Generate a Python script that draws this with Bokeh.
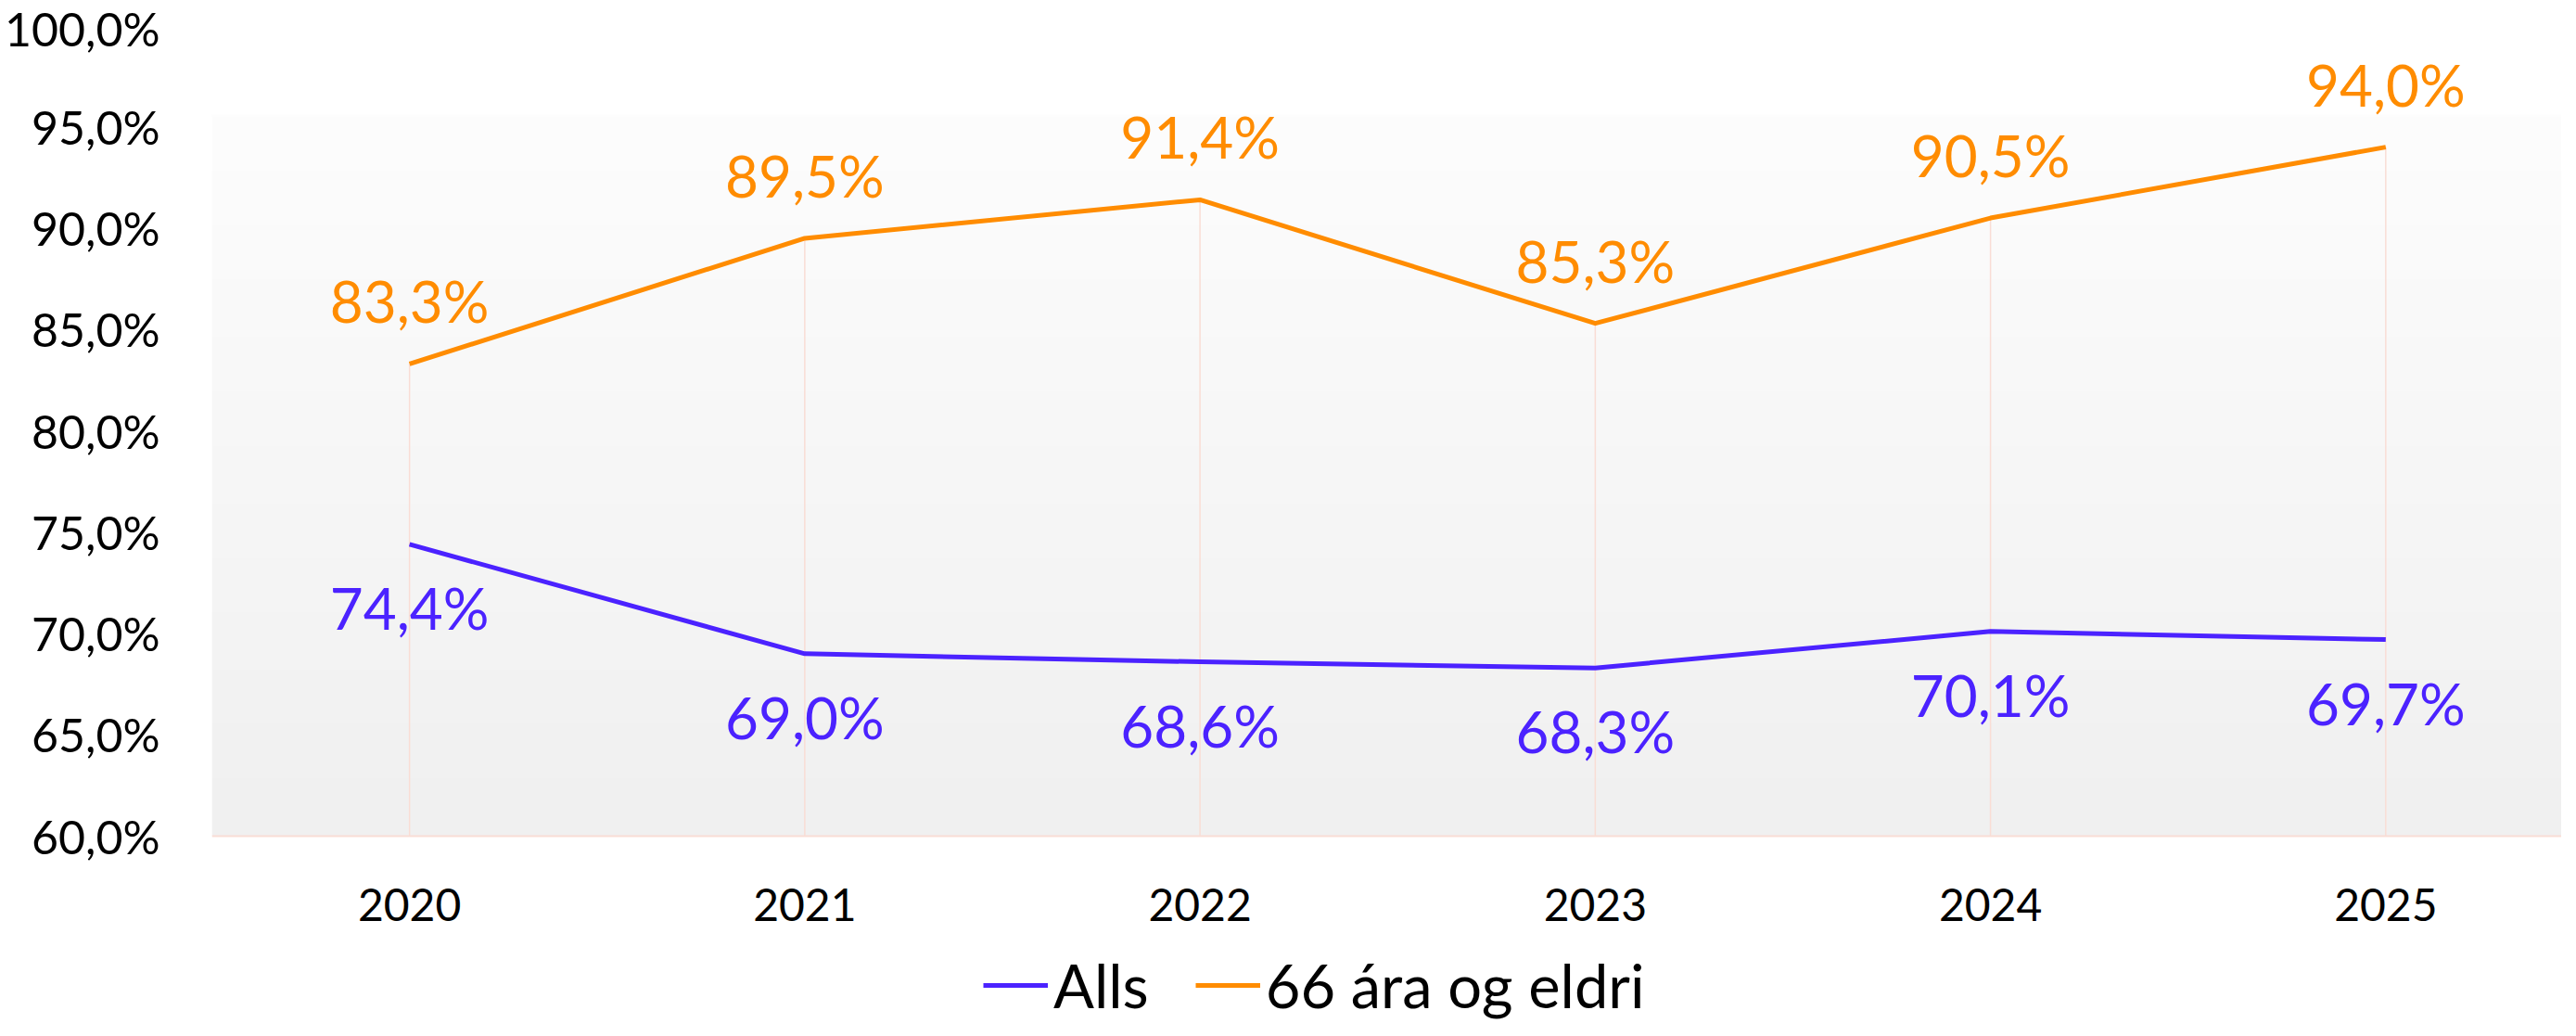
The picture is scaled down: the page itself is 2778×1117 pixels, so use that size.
import numpy as np
from bokeh.plotting import figure
from bokeh.models import FixedTicker, Range1d, Legend, LegendItem, ColumnDataSource, Span
from bokeh.embed import file_html
from bokeh.resources import INLINE
from bokeh.core.properties import value

# ---- data ----
years = ["2020", "2021", "2022", "2023", "2024", "2025"]
alls = [74.4, 69.0, 68.6, 68.3, 70.1, 69.7]
eldri = [83.3, 89.5, 91.4, 85.3, 90.5, 94.0]
series_names = ["Alls", "66 ára og eldri"]
y_ticks = [60, 65, 70, 75, 80, 85, 90, 95, 100]
y_tick_labels = ["60,0%", "65,0%", "70,0%", "75,0%", "80,0%", "85,0%", "90,0%", "95,0%", "100,0%"]

# ---- style ----
FONT = "Lato"
BLUE = "#4B22FF"
ORANGE = "#FF8C00"
PINK = "#F9DDD5"

W, H = 2762, 1101
TOP = 27
px_per_unit = 874 / 40.0          # 60% .. 100% spans 874 px
axis_min, y_end = 60, 100
y_start = y_end - (H - TOP) / px_per_unit   # frame runs to the bottom edge
x_start, x_end = -0.5, 5.445

p = figure(width=W, height=H, output_backend="svg", toolbar_location=None,
           x_range=Range1d(x_start, x_end), y_range=Range1d(y_start, y_end),
           min_border_left=228, min_border_right=0, min_border_top=TOP,
           min_border_bottom=0)
p.outline_line_color = None
p.background_fill_color = "white"
p.border_fill_color = "white"
p.grid.visible = False
p.xaxis.visible = False

# subtle vertical gradient for the plot area
grad_top = 95.6
n = 200
t = np.linspace(0, 1, n)  # 0 bottom -> 1 top
r = (240 + 13 * t).astype(np.uint8)
img = np.zeros((n, 1), dtype=np.uint32)
view = img.view(dtype=np.uint8).reshape((n, 1, 4))
view[:, 0, 0] = r
view[:, 0, 1] = r
view[:, 0, 2] = r
view[:, 0, 3] = 255
p.image_rgba(image=[img], x=x_start, y=axis_min, dw=x_end - x_start, dh=grad_top - axis_min)

xs = list(range(len(years)))

# drop lines from the upper series to the axis
p.segment(x0=xs, y0=eldri, x1=xs, y1=[axis_min] * len(xs), line_color=PINK, line_width=1.5)
# category axis line
p.add_layout(Span(location=axis_min, dimension="width", line_color=PINK, line_width=2))

src_a = ColumnDataSource(dict(x=xs, y=alls, lab=[f"{v:.1f}%".replace(".", ",") for v in alls]))
src_e = ColumnDataSource(dict(x=xs, y=eldri, lab=[f"{v:.1f}%".replace(".", ",") for v in eldri]))

r_a = p.line("x", "y", source=src_a, line_color=BLUE, line_width=5, line_join="round")
r_e = p.line("x", "y", source=src_e, line_color=ORANGE, line_width=5, line_join="round")

p.text("x", "y", text="lab", source=src_e, text_color=ORANGE, text_font=value(FONT),
       text_font_size="62px", text_align="center", text_baseline="middle", y_offset=-68)
p.text("x", "y", text="lab", source=src_a, text_color=BLUE, text_font=value(FONT),
       text_font_size="62px", text_align="center", text_baseline="middle", y_offset=68)

# category labels under the axis line
src_c = ColumnDataSource(dict(x=xs, y=[axis_min] * len(xs), lab=years))
p.text("x", "y", text="lab", source=src_c, text_color="black", text_font=value(FONT),
       text_font_size="48px", text_align="center", text_baseline="middle", y_offset=74)

# value axis
p.yaxis.ticker = FixedTicker(ticks=y_ticks)
p.yaxis.major_label_overrides = {t_: l for t_, l in zip(y_ticks, y_tick_labels)}
p.yaxis.axis_line_color = None
p.yaxis.major_tick_line_color = None
p.yaxis.minor_tick_line_color = None
p.yaxis.major_label_text_font = FONT
p.yaxis.major_label_text_font_size = "50px"
p.yaxis.major_label_text_color = "black"
p.yaxis.major_label_standoff = 50

legend = Legend(items=[LegendItem(label=series_names[0], renderers=[r_a]),
                       LegendItem(label=series_names[1], renderers=[r_e])],
                orientation="horizontal", location=(832, 0),
                glyph_width=70, glyph_height=60, label_standoff=6, spacing=50,
                label_text_font=FONT, label_text_font_size="65px",
                label_text_color="black", border_line_color=None,
                background_fill_alpha=0, padding=0, margin=0)
p.add_layout(legend)

open("out.html", "w").write(file_html(p, INLINE))
